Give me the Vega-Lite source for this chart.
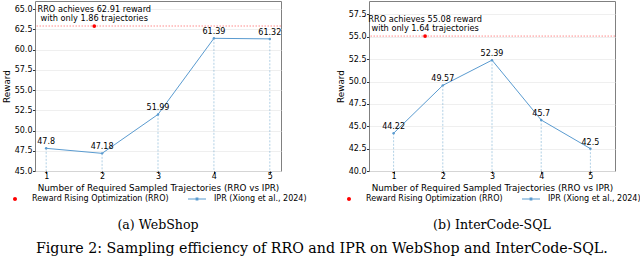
{
  "$schema": "https://vega.github.io/schema/vega-lite/v6.json",
  "padding": {"left": 2, "right": 0, "top": 0, "bottom": 3},
  "background": "white",
  "title": {"text": "Figure 2: Sampling efficiency of RRO and IPR on WebShop and InterCode-SQL.", "orient": "bottom", "anchor": "middle", "font": "DejaVu Serif", "fontSize": 14.2, "fontWeight": "normal", "color": "#000", "offset": 10},
  "spacing": 88,
  "bounds": "flush",
  "resolve": {"scale": {"x": "independent", "y": "independent", "color": "independent"}, "legend": {"color": "independent"}},
  "config": {
    "font": "DejaVu Sans",
    "view": {"stroke": "#808080", "strokeWidth": 1},
    "axis": {"labelFont": "DejaVu Sans", "labelFontSize": 8, "labelColor": "#000", "titleFont": "DejaVu Sans", "titleFontSize": 8.8, "titleFontWeight": "normal", "titleColor": "#000", "tickColor": "#333", "tickSize": 2.5, "domain": false, "labelOverlap": false},
    "axisY": {"grid": true, "gridColor": "#ebebeb", "gridWidth": 0.8, "titlePadding": 2.5, "labelPadding": 0.5},
    "axisX": {"grid": false, "titlePadding": 3, "labelPadding": -1},
    "legend": {"layout": {"bottom": {"anchor": "middle"}}}
  },
  "hconcat": [
    {
      "width": 246,
      "height": 170,
      "title": {"text": "(a) WebShop", "orient": "bottom", "anchor": "middle", "frame": "group", "font": "DejaVu Serif", "fontSize": 12.6, "fontWeight": "normal", "color": "#000", "offset": 16},
      "data": {"values": [
        {"method": "IPR (Xiong et al., 2024)", "n": 1, "reward": 47.8},
        {"method": "IPR (Xiong et al., 2024)", "n": 2, "reward": 47.18},
        {"method": "IPR (Xiong et al., 2024)", "n": 3, "reward": 51.99},
        {"method": "IPR (Xiong et al., 2024)", "n": 4, "reward": 61.39},
        {"method": "IPR (Xiong et al., 2024)", "n": 5, "reward": 61.32},
        {"method": "Reward Rising Optimization (RRO)", "n": 1.86, "reward": 62.91, "note": "RRO achieves 62.91 reward\nwith only 1.86 trajectories"}
      ]},
      "encoding": {
        "y": {"field": "reward", "type": "quantitative", "scale": {"domain": [45, 66], "nice": false, "zero": false}, "axis": {"values": [45, 47.5, 50, 52.5, 55, 57.5, 60, 62.5, 65], "format": ".1f", "title": "Reward", "labelOverlap": false}}
      },
      "layer": [
        {
          "transform": [{"filter": "datum.method === 'Reward Rising Optimization (RRO)'"}],
          "mark": {"type": "rule", "color": "#ff4040", "strokeDash": [1.5, 1.5], "strokeWidth": 1, "opacity": 0.6},
          "encoding": {}
        },
        {
          "transform": [{"filter": "datum.method === 'IPR (Xiong et al., 2024)'"}],
          "mark": {"type": "rule", "color": "#1f77b4", "strokeDash": [2, 1.5], "strokeWidth": 1, "opacity": 0.35},
          "encoding": {
            "x": {"field": "n", "type": "quantitative", "scale": {"domain": [0.8, 5.2], "nice": false, "zero": false}, "axis": {"values": [1, 2, 3, 4, 5], "format": "d", "title": "Number of Required Sampled Trajectories (RRO vs IPR)", "labelOverlap": false}},
            "y2": {"datum": 45}
          }
        },
        {
          "transform": [{"filter": "datum.method === 'IPR (Xiong et al., 2024)'"}],
          "mark": {"type": "line", "color": "#5a9bd0", "strokeWidth": 1},
          "encoding": {
            "x": {"field": "n", "type": "quantitative"}
          }
        },
        {
          "mark": {"type": "point", "filled": true, "opacity": 1},
          "encoding": {
            "x": {"field": "n", "type": "quantitative"},
            "color": {"field": "method", "type": "nominal", "scale": {"domain": ["Reward Rising Optimization (RRO)", "IPR (Xiong et al., 2024)"], "range": ["#ff0000", "#5a9bd0"]},
              "legend": {"orient": "bottom", "direction": "horizontal", "title": null, "labelFont": "DejaVu Sans", "labelFontSize": 8, "labelColor": "#000", "symbolSize": 100, "labelOffset": 11, "columnPadding": 19, "offset": 0, "symbolOpacity": 1,
                "encode": {"symbols": {"update": {"shape": {"signal": "datum.value === 'IPR (Xiong et al., 2024)' ? 'M-1.8,-0.1H1.8V0.1H-1.8Z M-0.28,-0.28H0.28V0.28H-0.28Z' : 'M-0.4,0A0.4,0.4,0,1,1,0.4,0A0.4,0.4,0,1,1,-0.4,0Z'"}}}}}},
            "size": {"condition": {"test": "datum.method === 'Reward Rising Optimization (RRO)'", "value": 14}, "value": 6}
          }
        },
        {
          "transform": [{"filter": "datum.method === 'IPR (Xiong et al., 2024)'"}],
          "mark": {"type": "text", "font": "DejaVu Sans", "fontSize": 8, "baseline": "bottom", "dy": -2, "color": "#000"},
          "encoding": {
            "x": {"field": "n", "type": "quantitative"},
            "text": {"field": "reward", "type": "nominal"}
          }
        },
        {
          "transform": [{"filter": "datum.method === 'Reward Rising Optimization (RRO)'"}],
          "mark": {"type": "text", "font": "DejaVu Sans", "fontSize": 8.2, "baseline": "bottom", "dy": -12, "lineBreak": "\n", "lineHeight": 9, "color": "#000"},
          "encoding": {
            "x": {"field": "n", "type": "quantitative"},
            "text": {"field": "note", "type": "nominal"}
          }
        }
      ]
    },
    {
      "width": 246,
      "height": 170,
      "title": {"text": "(b) InterCode-SQL", "orient": "bottom", "anchor": "middle", "frame": "group", "font": "DejaVu Serif", "fontSize": 12.6, "fontWeight": "normal", "color": "#000", "offset": 16},
      "data": {"values": [
        {"method": "IPR (Xiong et al., 2024)", "n": 1, "reward": 44.22},
        {"method": "IPR (Xiong et al., 2024)", "n": 2, "reward": 49.57},
        {"method": "IPR (Xiong et al., 2024)", "n": 3, "reward": 52.39},
        {"method": "IPR (Xiong et al., 2024)", "n": 4, "reward": 45.7},
        {"method": "IPR (Xiong et al., 2024)", "n": 5, "reward": 42.5},
        {"method": "Reward Rising Optimization (RRO)", "n": 1.64, "reward": 55.08, "note": "RRO achieves 55.08 reward\nwith only 1.64 trajectories"}
      ]},
      "encoding": {
        "y": {"field": "reward", "type": "quantitative", "scale": {"domain": [40, 59], "nice": false, "zero": false}, "axis": {"values": [40, 42.5, 45, 47.5, 50, 52.5, 55, 57.5], "format": ".1f", "title": "Reward", "labelOverlap": false}}
      },
      "layer": [
        {
          "transform": [{"filter": "datum.method === 'Reward Rising Optimization (RRO)'"}],
          "mark": {"type": "rule", "color": "#ff4040", "strokeDash": [1.5, 1.5], "strokeWidth": 1, "opacity": 0.6},
          "encoding": {}
        },
        {
          "transform": [{"filter": "datum.method === 'IPR (Xiong et al., 2024)'"}],
          "mark": {"type": "rule", "color": "#1f77b4", "strokeDash": [2, 1.5], "strokeWidth": 1, "opacity": 0.35},
          "encoding": {
            "x": {"field": "n", "type": "quantitative", "scale": {"domain": [0.5, 5.5], "nice": false, "zero": false}, "axis": {"values": [1, 2, 3, 4, 5], "format": "d", "title": "Number of Required Sampled Trajectories (RRO vs IPR)", "labelOverlap": false}},
            "y2": {"datum": 40}
          }
        },
        {
          "transform": [{"filter": "datum.method === 'IPR (Xiong et al., 2024)'"}],
          "mark": {"type": "line", "color": "#5a9bd0", "strokeWidth": 1},
          "encoding": {
            "x": {"field": "n", "type": "quantitative"}
          }
        },
        {
          "mark": {"type": "point", "filled": true, "opacity": 1},
          "encoding": {
            "x": {"field": "n", "type": "quantitative"},
            "color": {"field": "method", "type": "nominal", "scale": {"domain": ["Reward Rising Optimization (RRO)", "IPR (Xiong et al., 2024)"], "range": ["#ff0000", "#5a9bd0"]},
              "legend": {"orient": "bottom", "direction": "horizontal", "title": null, "labelFont": "DejaVu Sans", "labelFontSize": 8, "labelColor": "#000", "symbolSize": 100, "labelOffset": 11, "columnPadding": 19, "offset": 0, "symbolOpacity": 1,
                "encode": {"symbols": {"update": {"shape": {"signal": "datum.value === 'IPR (Xiong et al., 2024)' ? 'M-1.8,-0.1H1.8V0.1H-1.8Z M-0.28,-0.28H0.28V0.28H-0.28Z' : 'M-0.4,0A0.4,0.4,0,1,1,0.4,0A0.4,0.4,0,1,1,-0.4,0Z'"}}}}}},
            "size": {"condition": {"test": "datum.method === 'Reward Rising Optimization (RRO)'", "value": 14}, "value": 6}
          }
        },
        {
          "transform": [{"filter": "datum.method === 'IPR (Xiong et al., 2024)'"}],
          "mark": {"type": "text", "font": "DejaVu Sans", "fontSize": 8, "baseline": "bottom", "dy": -2, "color": "#000"},
          "encoding": {
            "x": {"field": "n", "type": "quantitative"},
            "text": {"field": "reward", "type": "nominal"}
          }
        },
        {
          "transform": [{"filter": "datum.method === 'Reward Rising Optimization (RRO)'"}],
          "mark": {"type": "text", "font": "DejaVu Sans", "fontSize": 8.2, "baseline": "bottom", "dy": -12, "lineBreak": "\n", "lineHeight": 9, "color": "#000"},
          "encoding": {
            "x": {"field": "n", "type": "quantitative"},
            "text": {"field": "note", "type": "nominal"}
          }
        }
      ]
    }
  ]
}
